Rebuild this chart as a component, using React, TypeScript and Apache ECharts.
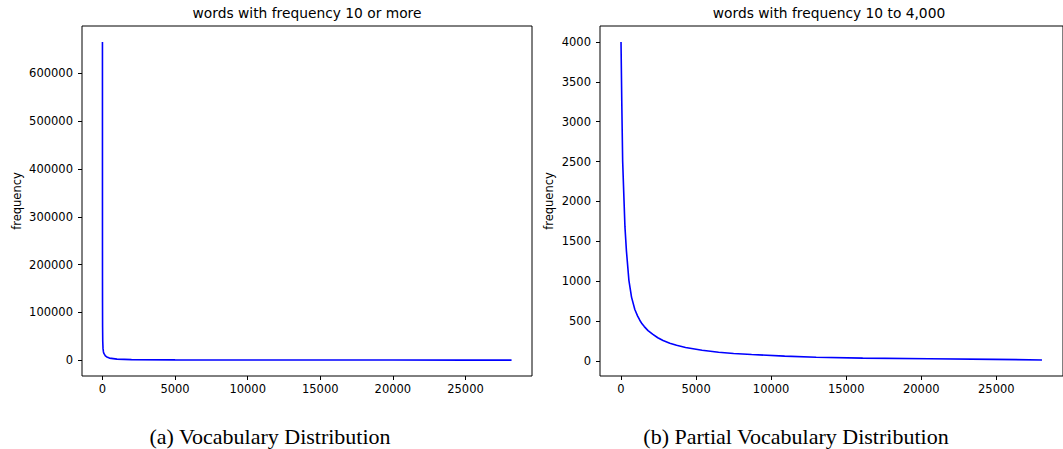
import React, { useEffect, useRef } from "react";
import * as echarts from "echarts";

// Left panel: word rank index vs frequency (all words with frequency >= 10)
const leftRank = [0, 1, 2, 3, 5, 10, 20, 40, 70, 100, 140, 200, 300, 480, 1000, 2000, 5000, 10000, 15000, 20000, 25000, 28170];
const leftFreq = [666000, 330000, 230000, 170000, 120000, 70000, 40000, 24000, 17000, 14000, 12000, 9000, 6500, 4200, 2000, 1000, 400, 180, 110, 70, 40, 10];

// Right panel: word rank index vs frequency (words with frequency 10 to 4,000)
const rightRank = [0, 50, 110, 200, 262, 360, 525, 700, 920, 1100, 1250, 1400, 1550, 1800, 2100, 2450, 2800, 3250, 3700, 4300, 5400, 6500, 7500, 8700, 10900, 13000, 16100, 20500, 24800, 28040];
const rightFreq = [4000, 3250, 2500, 2010, 1680, 1380, 1010, 800, 645, 565, 510, 465, 430, 380, 335, 290, 255, 222, 195, 168, 134, 109, 93, 80, 60, 46, 35, 26, 19, 12];

const xTicks = [0, 5000, 10000, 15000, 20000, 25000];
const leftYTicks = [0, 100000, 200000, 300000, 400000, 500000, 600000];
const rightYTicks = [0, 500, 1000, 1500, 2000, 2500, 3000, 3500, 4000];

const leftTitle = "words with frequency 10 or more";
const rightTitle = "words with frequency 10 to 4,000";
const leftCaption = "(a) Vocabulary Distribution";
const rightCaption = "(b) Partial Vocabulary Distribution";
const yName = "frequency";

const SANS = "DejaVu Sans";
const SERIF = "Liberation Serif";

export default function App() {
  const ref = useRef<HTMLDivElement>(null);
  useEffect(() => {
    if (!ref.current) return;
    const chart = echarts.init(ref.current, undefined, { renderer: "svg" });
    const tickStyle = (vals: number[]) => ({
      show: true,
      inside: false,
      length: 4,
      lineStyle: { color: "#000", width: 1 },
      customValues: vals,
    });
    const labelStyle = (vals: number[], margin: number) => ({
      customValues: vals,
      fontSize: 11.5,
      color: "#000",
      fontFamily: SANS,
      margin,
      formatter: (v: number) => String(v),
    });
    const hiddenLine = { show: false, onZero: false };
    const option: any = {
      animation: false,
      backgroundColor: "#fff",
      title: [
        { text: leftTitle, left: 307, top: 6, textAlign: "center", padding: 0, textStyle: { fontSize: 13.8, fontWeight: "normal", color: "#000", fontFamily: SANS } },
        { text: rightTitle, left: 829, top: 6, textAlign: "center", padding: 0, textStyle: { fontSize: 13.8, fontWeight: "normal", color: "#000", fontFamily: SANS } },
        { text: leftCaption, left: 270, top: 425, textAlign: "center", padding: 0, textStyle: { fontSize: 22, fontWeight: "normal", color: "#000", fontFamily: SERIF } },
        { text: rightCaption, left: 796, top: 425, textAlign: "center", padding: 0, textStyle: { fontSize: 22, fontWeight: "normal", color: "#000", fontFamily: SERIF } },
      ],
      grid: [
        { left: 82, top: 26, width: 450, height: 350, show: true, borderColor: "#000", borderWidth: 1, backgroundColor: "transparent" },
        { left: 600, top: 26, width: 470, height: 350, show: true, borderColor: "#000", borderWidth: 1, backgroundColor: "transparent" },
      ],
      xAxis: [
        {
          type: "value", gridIndex: 0, min: -1408, max: 29578,
          axisLine: hiddenLine,
          axisTick: tickStyle(xTicks),
          axisLabel: labelStyle(xTicks, 7),
          splitLine: { show: false },
        },
        {
          type: "value", gridIndex: 1, min: -1400, max: 29440,
          axisLine: hiddenLine,
          axisTick: tickStyle(xTicks),
          axisLabel: labelStyle(xTicks, 7),
          splitLine: { show: false },
        },
      ],
      yAxis: [
        {
          type: "value", gridIndex: 0, min: -33290, max: 699300,
          name: yName, nameLocation: "middle", nameGap: 59,
          nameTextStyle: { fontSize: 11.5, color: "#000", fontFamily: SANS },
          axisLine: hiddenLine,
          axisTick: tickStyle(leftYTicks),
          axisLabel: labelStyle(leftYTicks, 9),
          splitLine: { show: false },
        },
        {
          type: "value", gridIndex: 1, min: -189.5, max: 4199.5,
          name: yName, nameLocation: "middle", nameGap: 45,
          nameTextStyle: { fontSize: 11.5, color: "#000", fontFamily: SANS },
          axisLine: hiddenLine,
          axisTick: tickStyle(rightYTicks),
          axisLabel: labelStyle(rightYTicks, 9),
          splitLine: { show: false },
        },
      ],
      series: [
        {
          type: "line", xAxisIndex: 0, yAxisIndex: 0, showSymbol: false, symbol: "none",
          lineStyle: { color: "#0000ff", width: 1.6 },
          data: leftRank.map((r, i) => [r, leftFreq[i]]),
        },
        {
          type: "line", xAxisIndex: 1, yAxisIndex: 1, showSymbol: false, symbol: "none",
          lineStyle: { color: "#0000ff", width: 1.6 },
          data: rightRank.map((r, i) => [r, rightFreq[i]]),
        },
      ],
    };
    chart.setOption(option);
    return () => chart.dispose();
  }, []);
  return (
    <div
      ref={ref}
      style={{ position: "fixed", left: 0, top: 0, width: 1063, height: 449 }}
    />
  );
}
